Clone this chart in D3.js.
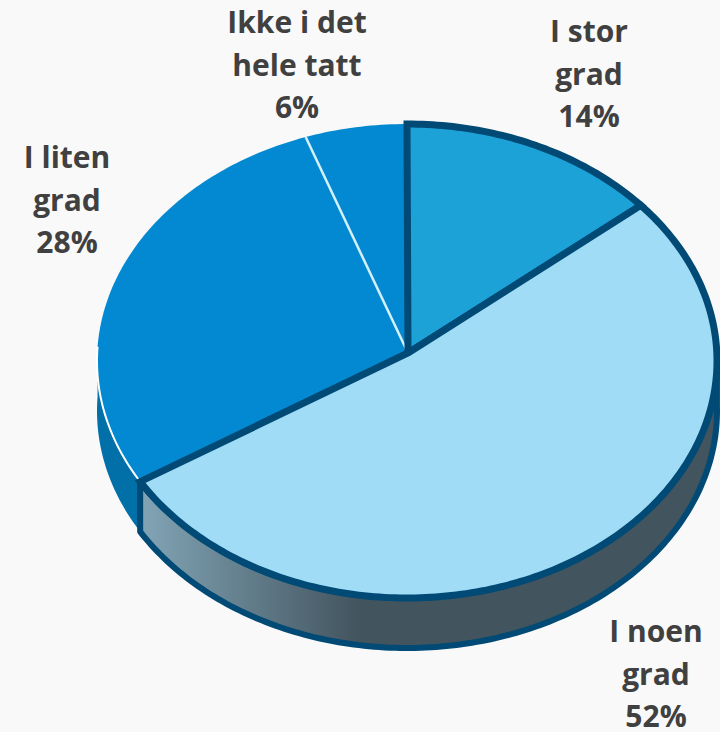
<!DOCTYPE html>
<html lang="en">
<head>
<meta charset="UTF-8">
<title>Pie</title>
<script src="https://d3js.org/d3.v7.min.js"></script>
<style>
  html, body { margin: 0; padding: 0; background: #f9f9f9; }
  text { font-family: "Open Sans", sans-serif; font-weight: 700; font-size: 30px; fill: #404040; text-anchor: middle; }
</style>
</head>
<body>
<div id="chart"></div>
<script>
var categories = ["I stor grad", "I noen grad", "I liten grad", "Ikke i det hele tatt"];
var sliceValues = [13.6, 52.9, 28.2, 5.3];
var percentLabels = ["14%", "52%", "28%", "6%"];
var labelLines = [["I stor", "grad"], ["I noen", "grad"], ["I liten", "grad"], ["Ikke i det", "hele tatt"]];
var sliceColors = ["#1da2d8", "#a0dcf6", "#0389d1", "#0389d1"];

var width = 720, height = 732;
var edge = "#004a75";
var depth = 50;

var svg = d3.select("#chart").append("svg")
  .attr("width", width).attr("height", height)
  .style("display", "block");

/* ellipse is a unit circle pushed through two scales */
var x = d3.scaleLinear().domain([-1, 1]).range([97, 717]);
var y = d3.scaleLinear().domain([-1, 1]).range([124, 598]);
var apex = [408, 353];

var arcs = d3.pie().sort(null)(sliceValues);
var line = d3.line();

function rim(a0, a1, dy) {
  dy = dy || 0;
  var n = Math.max(2, Math.ceil(Math.abs(a1 - a0) * 60));
  return d3.range(n + 1).map(function(i) {
    var a = a0 + (a1 - a0) * i / n;
    return [x(Math.sin(a)), y(-Math.cos(a)) + dy];
  });
}
function wedge(d) {
  return line([apex].concat(rim(d.startAngle, d.endAngle))) + "Z";
}
function wall(a0, a1) {
  return line(rim(a0, a1).concat(rim(a1, a0, depth))) + "Z";
}

var defs = svg.append("defs");
var grad = defs.append("linearGradient").attr("id", "wallGrad")
  .attr("gradientUnits", "userSpaceOnUse")
  .attr("x1", 140).attr("x2", 360).attr("y1", 0).attr("y2", 0);
grad.append("stop").attr("offset", 0).attr("stop-color", "#82a5b6");
grad.append("stop").attr("offset", 1).attr("stop-color", "#42545e");

/* side walls */
svg.append("path")
  .attr("d", wall(arcs[2].startAngle, 1.5 * Math.PI + 0.06))
  .attr("fill", "#0270a8");
svg.append("path")
  .attr("d", wall(Math.PI / 2 - 0.02, arcs[1].endAngle))
  .attr("fill", "url(#wallGrad)")
  .attr("stroke", edge).attr("stroke-width", 6).attr("stroke-linejoin", "round");

/* left slices have no dark border */
svg.selectAll(".plain").data([arcs[2], arcs[3]]).enter().append("path")
  .attr("class", "plain")
  .attr("d", wedge)
  .attr("fill", function(d) { return sliceColors[d.index]; });

svg.append("path")
  .attr("d", line(rim(arcs[2].startAngle, 1.5 * Math.PI + 0.06)))
  .attr("fill", "none").attr("stroke", "#ffffff").attr("stroke-width", 2);
svg.append("path")
  .attr("d", line([apex, rim(arcs[3].startAngle, arcs[3].startAngle)[0]]))
  .attr("fill", "none").attr("stroke", "#d4f0fb").attr("stroke-width", 2.5);

/* bordered slices on top */
svg.selectAll(".bordered").data([arcs[0], arcs[1]]).enter().append("path")
  .attr("class", "bordered")
  .attr("d", wedge)
  .attr("fill", function(d) { return sliceColors[d.index]; })
  .attr("stroke", edge).attr("stroke-width", 7).attr("stroke-linejoin", "miter");

/* labels */
var labelPos = [[589, 42], [656, 642], [67, 168], [297, 33]];
svg.selectAll(".label").data(categories).enter().append("text")
  .attr("class", "label")
  .attr("transform", function(d, i) { return "translate(" + labelPos[i] + ")"; })
  .each(function(d, i) {
    var t = d3.select(this);
    labelLines[i].concat(percentLabels[i]).forEach(function(s, j) {
      t.append("tspan").attr("x", 0).attr("y", j * 42.5).text(s);
    });
  });
</script>
</body>
</html>
